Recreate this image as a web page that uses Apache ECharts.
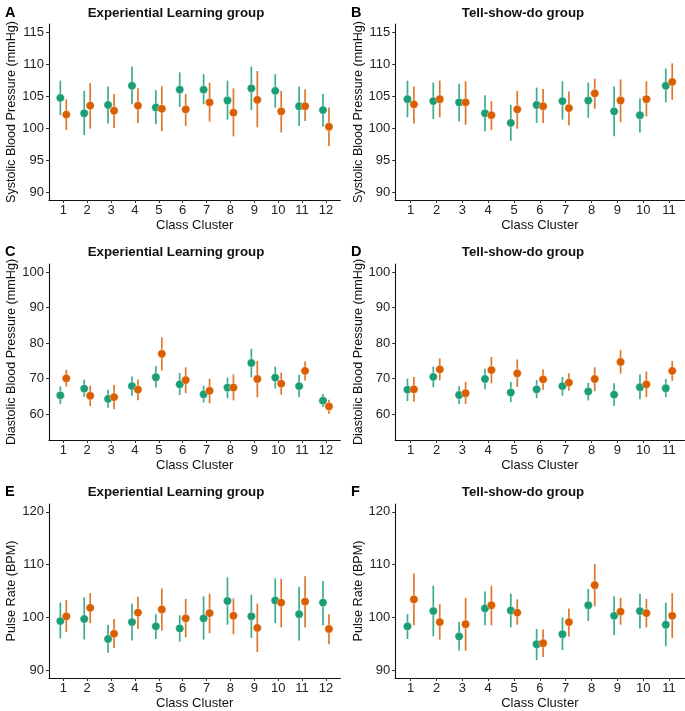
<!DOCTYPE html>
<html>
<head>
<meta charset="utf-8">
<script src="https://cdn.jsdelivr.net/npm/echarts@6/dist/echarts.min.js"></script>
<style>
  html, body { margin: 0; padding: 0; background: #fff; }
  #chart { width: 685px; height: 711px; }
</style>
</head>
<body>
<div id="chart"></div>
<script>
// ---------- categories ----------
const clustersExp = [1, 2, 3, 4, 5, 6, 7, 8, 9, 10, 11, 12];
const clustersTsd = [1, 2, 3, 4, 5, 6, 7, 8, 9, 10, 11];

// ---------- tick labels ----------
const sbpTicks = [90, 95, 100, 105, 110, 115];
const dbpTicks = [60, 70, 80, 90, 100];
const prTicks = [90, 100, 110, 120];

// ---------- A: Systolic, Experiential Learning ----------
const sbpExp_g1_mean = [104.7, 102.3, 103.6, 106.6, 103.2, 106.0, 106.0, 104.3, 106.2, 105.8, 103.4, 102.8];
const sbpExp_g1_low  = [102.0, 98.9, 100.7, 103.7, 100.6, 103.3, 103.7, 101.3, 102.8, 103.2, 100.3, 100.2];
const sbpExp_g1_high = [107.4, 105.8, 106.5, 109.6, 105.9, 108.7, 108.4, 107.4, 109.6, 108.4, 106.5, 105.3];
const sbpExp_g2_mean = [102.1, 103.5, 102.7, 103.5, 103.0, 102.9, 104.0, 102.4, 104.4, 102.6, 103.4, 100.2];
const sbpExp_g2_low  = [99.7, 99.9, 100.0, 100.8, 99.5, 100.3, 101.0, 98.7, 100.1, 99.3, 101.1, 97.2];
const sbpExp_g2_high = [104.5, 107.0, 105.3, 106.2, 106.5, 105.3, 107.1, 106.2, 108.9, 105.8, 106.0, 103.2];

// ---------- B: Systolic, Tell-show-do ----------
const sbpTsd_g1_mean = [104.5, 104.2, 104.0, 102.3, 100.8, 103.6, 104.2, 104.3, 102.6, 102.0, 106.6];
const sbpTsd_g1_low  = [101.7, 101.4, 101.0, 99.5, 98.0, 100.8, 101.3, 101.6, 98.7, 99.3, 104.0];
const sbpTsd_g1_high = [107.4, 107.1, 106.9, 105.1, 103.6, 106.3, 107.3, 107.1, 106.5, 104.6, 109.3];
const sbpTsd_g2_mean = [103.7, 104.5, 104.0, 102.0, 102.9, 103.4, 103.1, 105.4, 104.3, 104.5, 107.2];
const sbpTsd_g2_low  = [100.7, 101.7, 100.5, 99.7, 99.9, 100.8, 100.4, 103.0, 100.9, 101.8, 104.4];
const sbpTsd_g2_high = [106.5, 107.4, 107.3, 104.2, 105.8, 106.1, 105.7, 107.7, 107.6, 107.3, 110.1];

// ---------- C: Diastolic, Experiential Learning ----------
const dbpExp_g1_mean = [65.3, 67.2, 64.3, 67.9, 70.4, 68.4, 65.6, 67.5, 74.4, 70.3, 67.9, 63.8];
const dbpExp_g1_low  = [62.9, 64.9, 61.8, 65.2, 67.5, 65.4, 63.3, 64.5, 70.4, 67.3, 64.8, 62.0];
const dbpExp_g1_high = [67.8, 69.7, 66.9, 70.6, 73.5, 71.6, 68.0, 70.3, 78.4, 73.4, 71.1, 65.7];
const dbpExp_g2_mean = [70.1, 65.2, 64.8, 66.9, 77.0, 69.6, 66.6, 67.5, 69.9, 68.6, 72.2, 62.2];
const dbpExp_g2_low  = [67.8, 62.3, 61.4, 63.9, 72.3, 65.9, 63.1, 63.9, 64.7, 65.5, 69.5, 60.1];
const dbpExp_g2_high = [72.5, 68.0, 68.2, 69.8, 81.6, 73.2, 70.0, 71.2, 75.0, 71.7, 74.8, 64.1];

// ---------- D: Diastolic, Tell-show-do ----------
const dbpTsd_g1_mean = [66.9, 70.5, 65.4, 69.9, 66.1, 67.0, 67.9, 66.4, 65.5, 67.6, 67.3];
const dbpTsd_g1_low  = [63.7, 67.6, 62.9, 67.0, 63.4, 64.5, 65.2, 63.9, 62.3, 64.2, 64.8];
const dbpTsd_g1_high = [70.0, 73.4, 67.9, 72.8, 69.1, 69.6, 70.5, 68.8, 68.7, 71.2, 69.9];
const dbpTsd_g2_mean = [67.0, 72.6, 65.9, 72.4, 71.5, 69.8, 68.9, 69.9, 74.7, 68.4, 72.2];
const dbpTsd_g2_low  = [63.5, 69.5, 62.9, 68.7, 67.7, 66.9, 66.6, 66.5, 71.4, 64.8, 69.4];
const dbpTsd_g2_high = [70.5, 75.7, 69.1, 76.1, 75.4, 72.6, 71.5, 73.2, 78.0, 72.0, 75.0];

// ---------- E: Pulse, Experiential Learning ----------
const prExp_g1_mean = [99.3, 99.7, 95.9, 99.1, 98.3, 97.9, 99.8, 103.1, 100.2, 103.2, 100.6, 102.8];
const prExp_g1_low  = [96.0, 95.8, 93.3, 95.6, 95.9, 95.4, 95.8, 98.6, 96.1, 98.9, 95.6, 98.5];
const prExp_g1_high = [102.8, 103.8, 98.6, 102.6, 100.6, 100.4, 104.0, 107.6, 104.3, 107.4, 105.8, 106.9];
const prExp_g2_mean = [100.2, 101.8, 96.9, 100.9, 101.5, 99.8, 100.8, 100.3, 98.0, 102.8, 103.0, 97.8];
const prExp_g2_low  = [97.2, 98.9, 94.2, 97.8, 97.5, 96.2, 97.0, 96.8, 93.4, 98.1, 98.1, 94.9];
const prExp_g2_high = [103.3, 104.6, 99.7, 103.9, 105.5, 103.5, 104.5, 103.6, 102.6, 107.3, 107.8, 100.6];

// ---------- F: Pulse, Tell-show-do ----------
const prTsd_g1_mean = [98.3, 101.2, 96.4, 101.7, 101.3, 94.9, 96.8, 102.3, 100.3, 101.2, 98.6];
const prTsd_g1_low  = [95.9, 96.4, 93.7, 98.5, 98.1, 91.9, 93.8, 99.3, 96.6, 97.9, 94.5];
const prTsd_g1_high = [100.6, 106.0, 99.1, 104.9, 104.5, 97.8, 100.0, 105.4, 104.0, 104.5, 102.8];
const prTsd_g2_mean = [103.4, 99.1, 98.7, 102.3, 100.9, 95.1, 99.1, 106.1, 101.1, 100.8, 100.3];
const prTsd_g2_low  = [98.5, 95.8, 93.7, 98.5, 98.6, 92.5, 96.3, 102.1, 98.6, 98.1, 96.1];
const prTsd_g2_high = [108.3, 102.5, 103.7, 106.0, 103.4, 97.7, 101.7, 110.1, 103.7, 103.5, 104.6];

// ---------- labels ----------
const panelLetters = ['A', 'B', 'C', 'D', 'E', 'F'];
const panelTitles = ['Experiential Learning group', 'Tell-show-do group'];
const yTitles = ['Systolic Blood Pressure (mmHg)', 'Diastolic Blood Pressure (mmHg)', 'Pulse Rate (BPM)'];
const xTitle = 'Class Cluster';

// ---------- build ----------
const FONT = '"Liberation Sans", Arial, Helvetica, sans-serif';
const C1 = '#1B9E77';
const C2 = '#D95F02';
const DODGE = 0.125;

const panels = [
  { clusters: clustersExp, ticks: sbpTicks, ymin: 88.75, ymax: 116.25, yTitle: yTitles[0],
    g1: [sbpExp_g1_mean, sbpExp_g1_low, sbpExp_g1_high], g2: [sbpExp_g2_mean, sbpExp_g2_low, sbpExp_g2_high] },
  { clusters: clustersTsd, ticks: sbpTicks, ymin: 88.75, ymax: 116.25, yTitle: yTitles[0],
    g1: [sbpTsd_g1_mean, sbpTsd_g1_low, sbpTsd_g1_high], g2: [sbpTsd_g2_mean, sbpTsd_g2_low, sbpTsd_g2_high] },
  { clusters: clustersExp, ticks: dbpTicks, ymin: 52.75, ymax: 102.25, yTitle: yTitles[1],
    g1: [dbpExp_g1_mean, dbpExp_g1_low, dbpExp_g1_high], g2: [dbpExp_g2_mean, dbpExp_g2_low, dbpExp_g2_high] },
  { clusters: clustersTsd, ticks: dbpTicks, ymin: 52.75, ymax: 102.25, yTitle: yTitles[1],
    g1: [dbpTsd_g1_mean, dbpTsd_g1_low, dbpTsd_g1_high], g2: [dbpTsd_g2_mean, dbpTsd_g2_low, dbpTsd_g2_high] },
  { clusters: clustersExp, ticks: prTicks, ymin: 88.5, ymax: 121.5, yTitle: yTitles[2],
    g1: [prExp_g1_mean, prExp_g1_low, prExp_g1_high], g2: [prExp_g2_mean, prExp_g2_low, prExp_g2_high] },
  { clusters: clustersTsd, ticks: prTicks, ymin: 88.5, ymax: 121.5, yTitle: yTitles[2],
    g1: [prTsd_g1_mean, prTsd_g1_low, prTsd_g1_high], g2: [prTsd_g2_mean, prTsd_g2_low, prTsd_g2_high] }
];

const rowTops = [24, 264, 504];
const plotH = 176;
const colLeft = [49, 395.2];
const colW = [291.3, 289.3];
const titleCenters = [171, 518];
const letterLefts = [0, 346];
const titleTops = [2, 241, 481];
const letterTops = [0, 239.5, 479.5];

const grids = [], xAxes = [], yAxes = [], series = [], titles = [];

panels.forEach((p, k) => {
  const row = Math.floor(k / 2), col = k % 2;
  grids.push({ left: colLeft[col], top: rowTops[row], width: colW[col], height: plotH, containLabel: false });
  const n = p.clusters.length;
  xAxes.push({
    type: 'value', gridIndex: k, min: 0.4, max: n + 0.6,
    name: xTitle, nameLocation: 'middle', nameGap: 19,
    nameTextStyle: { fontFamily: FONT, fontSize: 13, color: '#111' },
    axisLine: { show: true, onZero: false, lineStyle: { color: '#111', width: 1.1 } },
    axisTick: { show: true, length: 3, lineStyle: { color: '#333' }, customValues: p.clusters },
    axisLabel: { fontFamily: FONT, fontSize: 13, color: '#222', margin: 4, customValues: p.clusters },
    splitLine: { show: false }
  });
  yAxes.push({
    type: 'value', gridIndex: k, min: p.ymin, max: p.ymax,
    name: p.yTitle, nameLocation: 'middle', nameGap: 30,
    nameTextStyle: { fontFamily: FONT, fontSize: 12.6, color: '#111' },
    axisLine: { show: true, onZero: false, lineStyle: { color: '#111', width: 1.1 } },
    axisTick: { show: true, length: 3, lineStyle: { color: '#333' }, customValues: p.ticks },
    axisLabel: { fontFamily: FONT, fontSize: 13, color: '#222', margin: 5, customValues: p.ticks },
    splitLine: { show: false }
  });

  const groups = [[p.g1, C1, -DODGE], [p.g2, C2, DODGE]];
  groups.forEach(([g, color, off]) => {
    series.push({
      type: 'custom', xAxisIndex: k, yAxisIndex: k, z: 2,
      data: p.clusters.map((c, i) => [c + off, g[1][i], g[2][i]]),
      encode: { x: 0, y: [1, 2] },
      renderItem: (params, api) => {
        const a = api.coord([api.value(0), api.value(1)]);
        const b = api.coord([api.value(0), api.value(2)]);
        return {
          type: 'line',
          shape: { x1: a[0], y1: a[1], x2: b[0], y2: b[1] },
          style: { stroke: color, lineWidth: 1.7, opacity: 0.85 }
        };
      },
      silent: true
    });
  });
  groups.forEach(([g, color, off]) => {
    series.push({
      type: 'scatter', xAxisIndex: k, yAxisIndex: k, z: 3,
      symbol: 'circle', symbolSize: 8.3,
      itemStyle: { color: color, opacity: 1, borderColor: 'rgba(255,255,255,0.55)', borderWidth: 0.7 },
      data: p.clusters.map((c, i) => [c + off, g[0][i]]),
      silent: true
    });
  });

  titles.push({
    text: panelTitles[col], left: titleCenters[col], top: titleTops[row], textAlign: 'center',
    textStyle: { fontFamily: FONT, fontSize: 13.3, fontWeight: 'bold', color: '#111' }
  });
  titles.push({
    text: panelLetters[k], left: letterLefts[col], top: letterTops[row],
    textStyle: { fontFamily: FONT, fontSize: 14.5, fontWeight: 'bold', color: '#000' }
  });
});

const chart = echarts.init(document.getElementById('chart'), null, { renderer: 'canvas' });
chart.setOption({
  animation: false,
  backgroundColor: '#fff',
  title: titles,
  grid: grids,
  xAxis: xAxes,
  yAxis: yAxes,
  series: series
});
</script>
</body>
</html>
